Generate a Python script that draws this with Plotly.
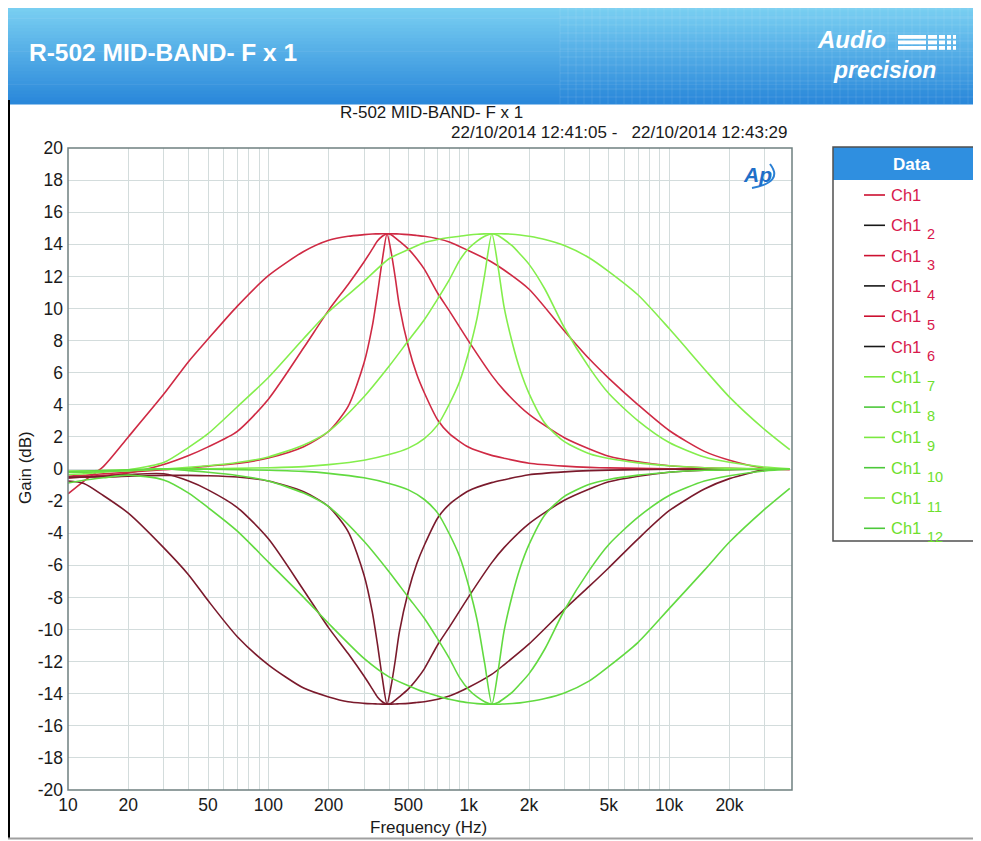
import plotly.graph_objects as go

# ---------------- data ----------------
FR = [10, 12, 15, 20, 30, 40, 50, 70, 100, 150, 200, 250, 300, 330, 350, 370, 391, 410, 430, 450,
      500, 550, 600, 700, 800, 1000, 1300, 1500, 2000, 3000, 4000, 5000, 7000, 10000, 15000, 20000,
      30000, 40000]
FG = [10, 12, 15, 20, 30, 40, 50, 70, 100, 150, 200, 300, 400, 500, 600, 700, 800, 900, 1000, 1100,
      1200, 1304, 1400, 1500, 1650, 1800, 2000, 2400, 3000, 4000, 5000, 7000, 10000, 15000, 20000,
      30000, 40000]

ch1 = [-1.55, -0.75, 0.15, 2.0, 4.65, 6.7, 8.1, 10.15, 12.05, 13.55, 14.25, 14.5, 14.6, 14.64, 14.65,
       14.66, 14.66, 14.66, 14.65, 14.64, 14.6, 14.55, 14.5, 14.35, 14.15, 13.6, 12.9, 12.4, 11.2, 8.6,
       6.85, 5.65, 4.0, 2.4, 1.1, 0.55, 0.05, -0.05]
ch1_2 = [-0.75, -0.9, -1.65, -2.75, -4.9, -6.6, -8.2, -10.45, -12.2, -13.65, -14.2, -14.5, -14.6, -14.63,
         -14.64, -14.65, -14.65, -14.65, -14.64, -14.63, -14.6, -14.55, -14.5, -14.35, -14.15, -13.6,
         -12.8, -12.2, -10.9, -8.75, -7.3, -6.15, -4.35, -2.6, -1.25, -0.6, -0.05, 0.0]
ch1_3 = [-0.55, -0.5, -0.4, -0.25, 0.28, 0.84, 1.38, 2.35, 4.35, 7.55, 9.9, 11.5, 12.9, 13.7, 14.2, 14.5,
         14.66, 14.6, 14.4, 14.2, 13.7, 13.1, 12.45, 10.95, 9.85, 7.95, 5.85, 4.9, 3.4, 1.95, 1.25, 0.8,
         0.45, 0.2, 0.08, 0.04, 0.0, 0.0]
ch1_4 = [-0.55, -0.5, -0.45, -0.35, -0.3, -0.75, -1.3, -2.4, -4.35, -7.55, -9.9, -11.5, -12.9, -13.7,
         -14.2, -14.5, -14.66, -14.6, -14.4, -14.2, -13.7, -13.1, -12.45, -10.95, -9.85, -7.95, -5.85,
         -4.9, -3.4, -1.95, -1.25, -0.8, -0.45, -0.2, -0.08, -0.04, 0.0, 0.0]
ch1_5 = [-0.45, -0.4, -0.3, -0.2, -0.05, 0.05, 0.18, 0.34, 0.68, 1.38, 2.35, 3.9, 6.6, 8.9, 10.9, 13.0,
         14.66, 13.5, 11.9, 10.2, 7.6, 5.9, 4.75, 3.05, 2.2, 1.35, 0.85, 0.67, 0.36, 0.18, 0.1, 0.07,
         0.04, 0.02, 0.01, 0.0, 0.0, 0.0]
ch1_6 = [-0.5, -0.5, -0.5, -0.45, -0.4, -0.4, -0.42, -0.5, -0.75, -1.42, -2.35, -3.9, -6.6, -8.9, -10.9,
         -13.0, -14.66, -13.5, -11.9, -10.2, -7.6, -5.9, -4.75, -3.05, -2.2, -1.35, -0.85, -0.67, -0.36,
         -0.18, -0.1, -0.07, -0.04, -0.02, -0.01, 0.0, 0.0, 0.0]
ch1_7 = [-0.35, -0.3, -0.2, -0.05, 0.4, 1.35, 2.2, 3.88, 5.7, 8.13, 9.8, 11.7, 13.1, 13.68, 14.1, 14.3,
         14.42, 14.5, 14.58, 14.63, 14.65, 14.66, 14.66, 14.65, 14.63, 14.58, 14.5, 14.3, 13.92, 13.15,
         12.3, 10.84, 8.75, 6.22, 4.48, 2.45, 1.2]
ch1_8 = [-0.87, -0.7, -0.55, -0.38, -0.68, -1.5, -2.4, -3.87, -5.8, -8.0, -9.63, -11.8, -12.95, -13.5,
         -13.9, -14.15, -14.35, -14.48, -14.56, -14.62, -14.65, -14.66, -14.66, -14.64, -14.61, -14.57,
         -14.49, -14.3, -13.95, -13.2, -12.3, -10.8, -8.7, -6.3, -4.55, -2.5, -1.2]
ch1_9 = [-0.2, -0.2, -0.15, -0.1, 0.0, 0.1, 0.2, 0.4, 0.75, 1.5, 2.35, 4.5, 6.4, 8.0, 9.3, 10.6, 11.8,
         13.0, 13.75, 14.2, 14.5, 14.66, 14.55, 14.3, 13.9, 13.4, 12.75, 11.2, 8.8, 6.3, 4.7, 3.0, 1.65,
         0.75, 0.42, 0.12, 0.02]
ch1_10 = [-0.2, -0.2, -0.15, -0.1, 0.0, -0.1, -0.2, -0.4, -0.75, -1.5, -2.35, -4.5, -6.4, -8.0, -9.3,
          -10.6, -11.8, -13.0, -13.75, -14.2, -14.5, -14.66, -14.55, -14.3, -13.9, -13.4, -12.75, -11.2,
          -8.8, -6.3, -4.7, -3.0, -1.65, -0.75, -0.42, -0.12, -0.02]
ch1_11 = [-0.15, -0.12, -0.1, -0.05, 0.0, 0.0, 0.02, 0.04, 0.08, 0.15, 0.27, 0.55, 0.9, 1.3, 1.9, 2.75,
          4.05, 5.45, 7.3, 9.4, 12.1, 14.66, 12.6, 10.1, 7.85, 6.2, 4.7, 2.85, 1.7, 0.95, 0.65, 0.38,
          0.2, 0.08, 0.05, 0.02, 0.0]
ch1_12 = [-0.15, -0.12, -0.1, -0.05, 0.0, 0.0, -0.02, -0.04, -0.08, -0.15, -0.27, -0.55, -0.9, -1.3,
          -1.9, -2.75, -4.05, -5.45, -7.3, -9.4, -12.1, -14.66, -12.6, -10.1, -7.85, -6.2, -4.7, -2.85,
          -1.7, -0.95, -0.65, -0.38, -0.2, -0.08, -0.05, -0.02, 0.0]

series_base = "Ch1"
series_index = ["", "2", "3", "4", "5", "6", "7", "8", "9", "10", "11", "12"]
series_names = [series_base + ("<sub>" + s + "</sub>" if s else "") for s in series_index]
series_x = [FR] * 6 + [FG] * 6
series_y = [ch1, ch1_2, ch1_3, ch1_4, ch1_5, ch1_6, ch1_7, ch1_8, ch1_9, ch1_10, ch1_11, ch1_12]

x_tickvals = [10, 20, 30, 40, 50, 60, 70, 80, 90, 100, 200, 300, 400, 500, 600, 700, 800, 900,
              1000, 2000, 3000, 4000, 5000, 6000, 7000, 8000, 9000, 10000, 20000, 30000]
x_ticktext = ["10", "20", "", "", "50", "", "", "", "", "100", "200", "", "", "500", "", "", "", "",
              "1k", "2k", "", "", "5k", "", "", "", "", "10k", "20k", ""]
y_tickvals = [-20, -18, -16, -14, -12, -10, -8, -6, -4, -2, 0, 2, 4, 6, 8, 10, 12, 14, 16, 18, 20]
y_ticktext = ["-20", "-18", "-16", "-14", "-12", "-10", "-8", "-6", "-4", "-2", "0", "2", "4", "6",
              "8", "10", "12", "14", "16", "18", "20"]

main_title = "R-502 MID-BAND- F x 1"
date_text = "22/10/2014 12:41:05 -\u00a0\u00a0\u00a022/10/2014 12:43:29"

# ---------------- styles / layout ----------------
# the page has an 8 px body margin, so the figure is 8 px smaller and everything is placed
# in reference-picture pixel coordinates relative to the plot area.
PAGE_OFF = 8
W, H = 981 - PAGE_OFF, 841 - PAGE_OFF
L, R, T, B = 68, 792, 148, 790          # plot area in reference pixels
FONT = "Liberation Sans, Arial, sans-serif"


def px(x):
    return (x - L) / (R - L)


def py(y):
    return (B - y) / (B - T)


line_colors = ["#cf2a44", "#7a1a2c", "#cf2a44", "#7a1a2c", "#cf2a44", "#7a1a2c",
               "#84ee4c", "#62da40", "#84ee4c", "#62da40", "#84ee4c", "#62da40"]
legend_line_colors = ["#cc1030", "#181818", "#cc1030", "#181818", "#cc1030", "#181818",
                      "#7ae840", "#4cc83a", "#7ae840", "#4cc83a", "#7ae840", "#4cc83a"]
legend_text_colors = ["#d8184c"] * 6 + ["#6ee02e"] * 6

fig = go.Figure()
for xs, ys, nm, col in zip(series_x, series_y, series_names, line_colors):
    fig.add_trace(go.Scatter(x=xs, y=ys, mode="lines", name=nm, showlegend=False,
                             line=dict(color=col, width=1.6, shape="spline", smoothing=0.7),
                             hoverinfo="skip"))

shapes = []
annotations = []


def lerp_col(c1, c2, t):
    a = [int(c1[i:i + 2], 16) for i in (1, 3, 5)]
    b = [int(c2[i:i + 2], 16) for i in (1, 3, 5)]
    return "#" + "".join("%02x" % round(a[k] + (b[k] - a[k]) * t) for k in range(3))


# header gradient
hy0, hy1 = 5, 104
nb = 30
for i in range(nb):
    y0 = hy0 + (hy1 - hy0) * i / nb
    y1 = hy0 + (hy1 - hy0) * (i + 1) / nb + 0.6
    shapes.append(dict(type="rect", xref="paper", yref="paper", x0=px(4), x1=px(990),
                       y0=py(y1), y1=py(y0), line=dict(width=0),
                       fillcolor=lerp_col("#7bd0f2", "#2a88da", i / (nb - 1)), layer="below"))
# faint grid texture on right part of header
for gx in range(560, 981, 8):
    shapes.append(dict(type="line", xref="paper", yref="paper", x0=px(gx), x1=px(gx),
                       y0=py(hy1), y1=py(hy0), line=dict(color="rgba(255,255,255,0.10)", width=1)))
for gy in range(9, 104, 8):
    shapes.append(dict(type="line", xref="paper", yref="paper", x0=px(560), x1=px(990),
                       y0=py(gy), y1=py(gy), line=dict(color="rgba(255,255,255,0.10)", width=1)))
# Audio Precision logo bars
for by in (35, 40.5, 46):
    for bx0, bx1 in ((898, 926), (928, 937), (939, 945), (947, 951), (953, 956)):
        shapes.append(dict(type="rect", xref="paper", yref="paper", x0=px(bx0), x1=px(bx1),
                           y0=py(by + 3.8), y1=py(by), line=dict(width=0), fillcolor="white"))

# left black border line and bottom line
shapes.append(dict(type="line", xref="paper", yref="paper", x0=px(8.5), x1=px(8.5), y0=py(838), y1=py(100),
                   line=dict(color="black", width=3)))
shapes.append(dict(type="line", xref="paper", yref="paper", x0=px(8), x1=px(990), y0=py(838.5), y1=py(838.5),
                   line=dict(color="#a0a0a0", width=2)))

# plot border
shapes.append(dict(type="rect", xref="paper", yref="paper", x0=0, x1=1, y0=0, y1=1,
                   line=dict(color="#6f8080", width=1.5)))

# legend box
lx0, lx1, ly0, ly1 = 833, 979, 147, 541
shapes.append(dict(type="rect", xref="paper", yref="paper", x0=px(lx0), x1=px(lx1), y0=py(ly0 + 33),
                   y1=py(ly0), line=dict(width=0), fillcolor="#2f8fe0"))
shapes.append(dict(type="rect", xref="paper", yref="paper", x0=px(lx0), x1=px(lx1), y0=py(ly1),
                   y1=py(ly0), line=dict(color="#505050", width=1.5)))
annotations.append(dict(xref="paper", yref="paper", x=px(911), y=py(164), text="<b>Data</b>",
                        showarrow=False, xanchor="center", yanchor="middle",
                        font=dict(family=FONT, size=17, color="white")))
for i, (sub, lc, tc) in enumerate(zip(series_index, legend_line_colors, legend_text_colors)):
    yy = 195 + 30.3 * i
    shapes.append(dict(type="line", xref="paper", yref="paper", x0=px(864), x1=px(885),
                       y0=py(yy), y1=py(yy), line=dict(color=lc, width=1.6)))
    annotations.append(dict(xref="paper", yref="paper", x=px(889), y=py(yy), text=series_base,
                            showarrow=False, xanchor="left", yanchor="middle",
                            font=dict(family=FONT, size=16.5, color=tc)))
    if sub:
        annotations.append(dict(xref="paper", yref="paper", x=px(925), y=py(yy + 9), text=sub,
                                showarrow=False, xanchor="left", yanchor="middle",
                                font=dict(family=FONT, size=14.5, color=tc)))

# AP swoosh in plot
swoosh = "M {} {} Q {} {} {} {}".format(px(752), py(188), px(784), py(182), px(770), py(164))
shapes.append(dict(type="path", xref="paper", yref="paper", path=swoosh,
                   line=dict(color="#2a7fd4", width=2)))

# texts
annotations += [
    dict(xref="paper", yref="paper", x=px(27), y=py(53), text="<b>" + main_title + "</b>", showarrow=False,
         xanchor="left", yanchor="middle", font=dict(family=FONT, size=24.5, color="white")),
    dict(xref="paper", yref="paper", x=px(852), y=py(40), text="<b><i>Audio</i></b>", showarrow=False,
         xanchor="center", yanchor="middle", font=dict(family=FONT, size=24, color="white")),
    dict(xref="paper", yref="paper", x=px(884), y=py(70), text="<b><i>precision</i></b>", showarrow=False,
         xanchor="center", yanchor="middle", font=dict(family=FONT, size=23, color="white")),
    dict(xref="paper", yref="paper", x=px(431), y=py(113), text=main_title, showarrow=False,
         xanchor="center", yanchor="middle", font=dict(family=FONT, size=17, color="#1a1a1a")),
    dict(xref="paper", yref="paper", x=px(790), y=py(133), text=date_text, showarrow=False,
         xanchor="right", yanchor="middle", font=dict(family=FONT, size=17, color="#1a1a1a")),
    dict(xref="paper", yref="paper", x=px(757), y=py(175), text="<b><i>Ap</i></b>", showarrow=False,
         xanchor="center", yanchor="middle", font=dict(family=FONT, size=21, color="#1f6fc8")),
    dict(xref="paper", yref="paper", x=px(25), y=py(468), text="Gain (dB)", showarrow=False, textangle=-90,
         xanchor="center", yanchor="middle", font=dict(family=FONT, size=17, color="#1a1a1a")),
    dict(xref="paper", yref="paper", x=px(428), y=py(827), text="Frequency (Hz)", showarrow=False,
         xanchor="center", yanchor="middle", font=dict(family=FONT, size=17, color="#1a1a1a")),
]

fig.update_layout(
    width=W, height=H, autosize=False,
    margin=dict(l=L - PAGE_OFF, r=W - (R - PAGE_OFF), t=T - PAGE_OFF, b=H - (B - PAGE_OFF), pad=0),
    paper_bgcolor="white", plot_bgcolor="white",
    showlegend=False,
    shapes=shapes, annotations=annotations,
    font=dict(family=FONT, size=17, color="#1a1a1a"),
    xaxis=dict(type="log", range=[1, 4.613], tickvals=x_tickvals, ticktext=x_ticktext,
               showgrid=True, gridcolor="#d3dcdc", gridwidth=1, zeroline=False, showline=False,
               ticks="", tickfont=dict(family=FONT, size=17.5, color="#1a1a1a"), ticklabelstandoff=2),
    yaxis=dict(range=[-20, 20], tickvals=y_tickvals, ticktext=y_ticktext, showgrid=True,
               gridcolor="#d3dcdc", gridwidth=1, zeroline=False, showline=False, ticks="",
               tickfont=dict(family=FONT, size=17.5, color="#1a1a1a"), ticklabelstandoff=4),
)

fig.write_html("out.html")
